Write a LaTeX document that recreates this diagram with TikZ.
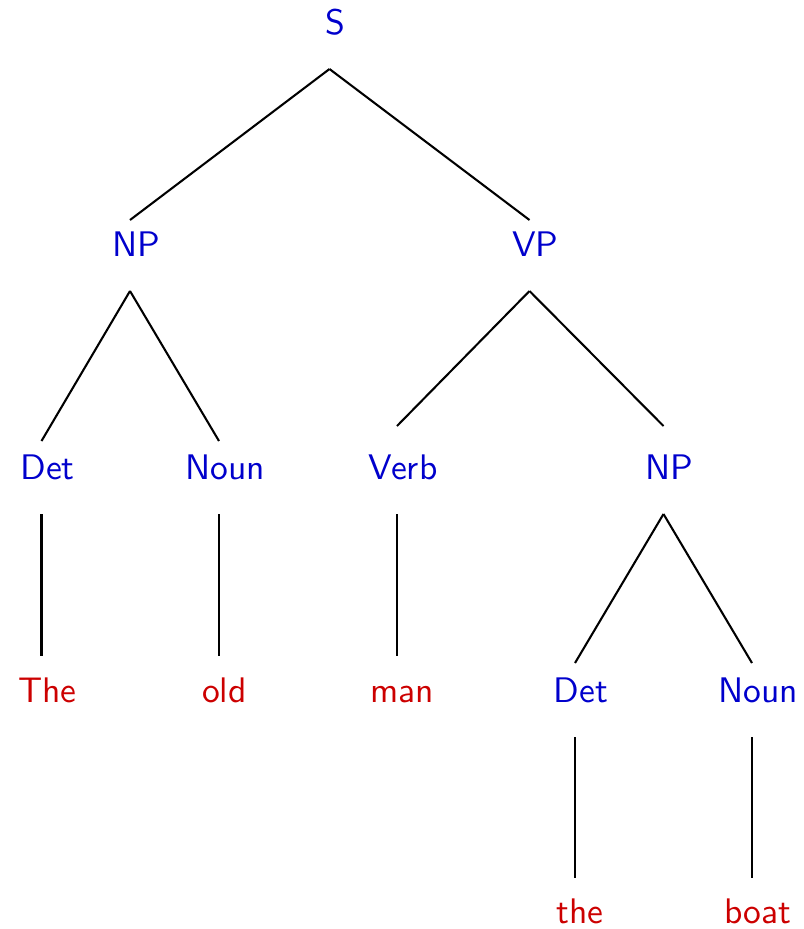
\documentclass[tikz,border=0pt]{standalone}
\definecolor{catblue}{RGB}{0,0,204}
\definecolor{wordred}{RGB}{204,0,0}
\begin{document}
\begin{tikzpicture}[x=0.29pt,y=-0.29pt,
  cat/.style={font=\fontsize{10.3}{12}\sffamily,text=catblue,inner sep=0pt,anchor=base},
  word/.style={font=\fontsize{10.3}{12}\sffamily,text=wordred,inner sep=0pt,anchor=base},
  edge/.style={draw=black,line width=0.6pt}]
\useasboundingbox (0,0) rectangle (804,929);
% level 0
\node[cat] (S) at (335.5,34) {S};
% level 1
\node[cat] (NPa) at (136,256) {NP};
\node[cat] (VP) at (535.5,256) {VP};
% level 2
\node[cat] (Deta) at (47.5,479) {Det};
\node[cat] (Nouna) at (225,479) {Noun};
\node[cat] (Verb) at (403,479) {Verb};
\node[cat] (NPb) at (669.5,479) {NP};
% level 3
\node[word] (The) at (47.5,702) {The};
\node[word] (old) at (224.5,702) {old};
\node[word] (man) at (402,702) {man};
\node[cat] (Detb) at (581,702) {Det};
\node[cat] (Nounb) at (758,702) {Noun};
% level 4
\node[word] (the) at (580,923) {the};
\node[word] (boat) at (758,923) {boat};
% diagonal connectors
\foreach \a/\b/\d in {S/NPa/36, S/VP/36, NPa/Deta/38, NPa/Nouna/38,
    VP/Verb/53, VP/NPb/53, NPb/Detb/39, NPb/Nounb/39}
  \draw[edge] ([shift={(-6,35)}]\a.base) -- ([shift={(-6,-\d)}]\b.base);
% vertical connectors
\foreach \a/\b/\d in {Deta/The/46, Nouna/old/46, Verb/man/46,
    Detb/the/45, Nounb/boat/45}
  \draw[edge] ([shift={(-6,35)}]\a.base) -- ([shift={(-6,-\d)}]\a.base |- \b.base);
\end{tikzpicture}
\end{document}
